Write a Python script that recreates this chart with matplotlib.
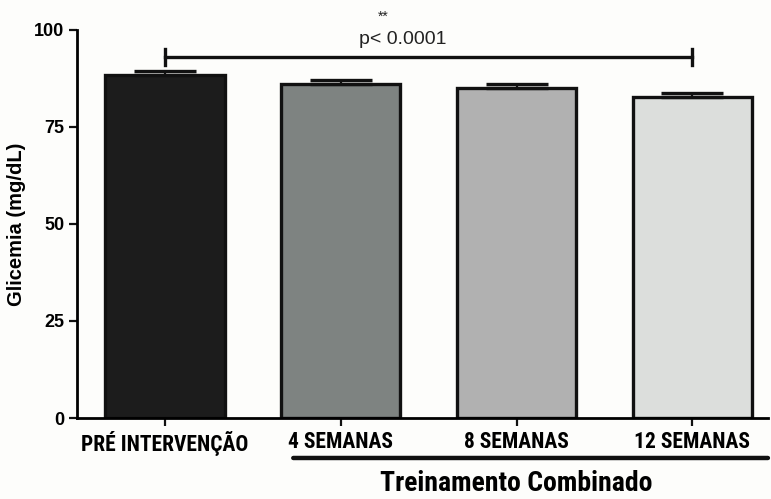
import matplotlib.pyplot as plt

groups = ["PRÉ INTERVENÇÃO", "4 SEMANAS", "8 SEMANAS", "12 SEMANAS"]
glicemia = [88.3, 86.0, 85.0, 82.6]
sem = [1.2, 1.0, 1.1, 1.2]
colors = ["#1c1c1c", "#7e8381", "#b1b1b1", "#dcdedc"]
y_ticks = [0, 25, 50, 75, 100]

plt.rcParams["font.family"] = "Liberation Sans"
narrow = "Roboto Condensed"

fig = plt.figure(figsize=(7.71, 4.99), dpi=100, facecolor="#fdfdfb")
ax = fig.add_axes([0.0999, 0.1623, 0.8961, 0.7777], facecolor="#fdfdfb")

x = range(len(groups))
ax.bar(x, glicemia, width=0.68, color=colors, edgecolor="#111111", linewidth=2.4, zorder=2)
ax.errorbar(x, glicemia, yerr=[[0] * len(sem), sem], fmt="none", ecolor="#111111",
            elinewidth=1.6, capsize=22, capthick=2.4, zorder=3)

ax.set_xlim(-0.5, 3.43)
ax.set_ylim(0, 100)
ax.set_yticks(y_ticks)
ax.set_xticks(list(x))
ax.set_xticklabels(groups, family=narrow, fontweight="bold", fontsize=15.5)
for lab in ax.get_yticklabels():
    lab.set_fontweight("bold")
    lab.set_fontsize(13)
ax.tick_params(axis="both", width=1.6, length=6, color="#111111", pad=3)
ax.spines["top"].set_visible(False)
ax.spines["right"].set_visible(False)
ax.spines["left"].set_linewidth(2)
ax.spines["bottom"].set_linewidth(2)
ax.set_ylabel("Glicemia (mg/dL)", fontweight="bold", fontsize=14.5, labelpad=6)

# comparação pré vs 12 semanas
y_sig = 93
ax.plot([0, 3], [y_sig, y_sig], color="#111111", lw=2.4, clip_on=False)
ax.plot([0, 0], [y_sig - 2.1, y_sig + 2.1], color="#111111", lw=2.4, clip_on=False)
ax.plot([3, 3], [y_sig - 2.1, y_sig + 2.1], color="#111111", lw=2.4, clip_on=False)
ax.text(1.35, 97.5, "p< 0.0001", ha="center", va="center", fontsize=14, color="#222222")
ax.text(1.24, 103.5, "**", ha="center", va="center", fontsize=10, color="#222222", clip_on=False)

# linha do grupo de treinamento
ax.annotate("", xy=(0.313, -0.103), xytext=(1.0, -0.103), xycoords="axes fraction",
            arrowprops=dict(arrowstyle="-", lw=3.2, color="#111111", shrinkA=0, shrinkB=0))
ax.text(2.0, -16.8, "Treinamento Combinado", ha="center", va="center", fontsize=20,
        family=narrow, fontweight="bold", clip_on=False)

fig.savefig("out.png", dpi=100, facecolor=fig.get_facecolor())
